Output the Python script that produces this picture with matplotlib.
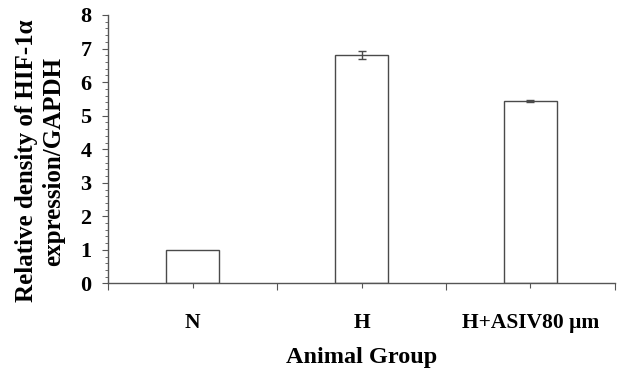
import matplotlib
matplotlib.use("Agg")
import matplotlib.pyplot as plt
import numpy as np

categories = ["N", "H", "H+ASIV80 μm"]
values = [1.0, 6.81, 5.44]
errors = [0.0, 0.12, 0.04]
y_ticks = [0, 1, 2, 3, 4, 5, 6, 7, 8]

plt.rcParams['font.family'] = ['Liberation Serif', 'DejaVu Serif']
plt.rcParams['font.weight'] = 'bold'

fig = plt.figure(figsize=(6.18, 3.74), dpi=100)
ax = fig.add_axes([0.175, 0.242, 0.82, 0.718])

x = np.arange(len(categories))
edge = '#4a4a4a'
ax.bar(x, values, width=0.31, color='white', edgecolor=edge, linewidth=1.0, zorder=2)
ax.errorbar(x[1:], values[1:], yerr=errors[1:], fmt='none', ecolor=edge,
            elinewidth=1.0, capsize=3, capthick=1.0, zorder=3)

ax.set_xlim(-0.5, len(categories) - 0.5)
ax.set_ylim(0, 8)
ax.set_yticks(y_ticks)
ax.set_yticks(np.arange(0, 8.01, 0.2), minor=True)
ax.set_xticks(x)
ax.set_xticklabels(categories)
ax.set_xticks(np.arange(-0.5, len(categories), 1.0), minor=True)

for s in ['top', 'right']:
    ax.spines[s].set_visible(False)
for s in ['left', 'bottom']:
    ax.spines[s].set_color('#555555')
    ax.spines[s].set_linewidth(1.0)

ax.tick_params(axis='y', which='major', length=4, width=0.8, color='#555555',
               labelsize=16, pad=8)
ax.tick_params(axis='y', which='minor', length=2.5, width=0.6, color='#555555')
ax.tick_params(axis='x', which='major', length=3.6, width=0.8, color='#555555',
               labelsize=15.5, pad=18)
ax.tick_params(axis='x', which='minor', length=5, width=0.8, color='#555555')

ax.set_xlabel("Animal Group", fontsize=17.5, fontweight='bold', labelpad=10)
fig.text(40 / 618, 1 - 161 / 374, "Relative density of HIF-1α\nexpression/GAPDH",
         rotation=90, ha='center', va='center', multialignment='center',
         fontsize=18, fontweight='bold', linespacing=1.25)

fig.savefig("out.png", dpi=100)
